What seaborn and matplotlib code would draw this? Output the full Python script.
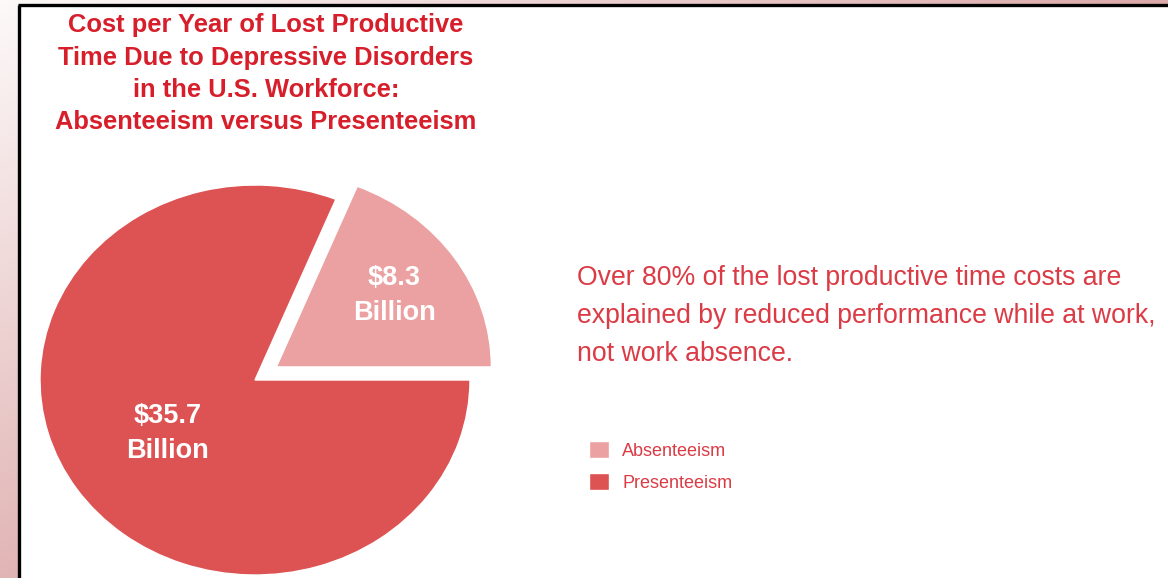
import numpy as np
import matplotlib
matplotlib.use("Agg")
import matplotlib.pyplot as plt
from matplotlib import font_manager
from matplotlib.patches import Rectangle
import seaborn as sns

# ---- data -------------------------------------------------------------
categories = ["Absenteeism", "Presenteeism"]
cost_billions = [8.3, 35.7]
title_lines = [
    "Cost per Year of Lost Productive",
    "Time Due to Depressive Disorders",
    "in the U.S. Workforce:",
    "Absenteeism versus Presenteeism",
]
note_lines = [
    "Over 80% of the lost productive time costs are",
    "explained by reduced performance while at work,",
    "not work absence.",
]

# ---- style ------------------------------------------------------------
sns.set_theme(style="white")
installed = {f.name for f in font_manager.fontManager.ttflist}


def pick(*names):
    for n in names:
        if n in installed:
            return n
    return "DejaVu Sans"


narrow = pick("Liberation Sans Narrow", "Liberation Sans", "DejaVu Sans")
regular = pick("Liberation Sans", "DejaVu Sans")
plt.rcParams["font.family"] = [narrow, "DejaVu Sans"]

palette = sns.color_palette(["#eba0a1", "#dd5252"])
title_red = "#d71f2b"
text_red = "#db3b45"

W, H = 1168, 578
fig = plt.figure(figsize=(W / 100, H / 100), dpi=100)

# ---- slide background: soft pink gradient with a framed white panel ----
bg = fig.add_axes([0, 0, 1, 1], zorder=0)
yy, xx = np.mgrid[0:1:200j, 0:1:400j]
t = np.clip(0.06 + 0.72 * yy + 0.85 * xx, 0, 1)[..., None]
pink = np.array([217, 160, 160]) / 255
grad = (1 - t) * np.ones(3) + t * pink
bg.imshow(grad, extent=[0, W, H, 0], aspect="auto", interpolation="bilinear")
bg.set_xlim(0, W)
bg.set_ylim(H, 0)
bg.axis("off")
bg.add_patch(Rectangle((19, 5), W - 19, H - 5, facecolor="white", edgecolor="none"))
bg.plot([19, 19], [H + 5, 5], color="black", lw=2.4, solid_capstyle="butt")
bg.plot([18, W + 5], [5, 5], color="black", lw=2.4, solid_capstyle="butt")

# ---- pie --------------------------------------------------------------
ax = fig.add_axes([0, 0, 1, 1], zorder=1)
ax.patch.set_alpha(0)
total = sum(cost_billions)
wedges, _, autotexts = ax.pie(
    cost_billions,
    colors=palette,
    startangle=0,
    counterclock=True,
    explode=[0.12, 0.0],
    autopct=lambda p: f"${p * total / 100:.1f}\nBillion",
    textprops=dict(color="white", fontsize=19.5, fontweight="bold",
                   linespacing=1.45),
    frame=False,
)
# value labels: placed along each wedge's mid-angle, radius per slice
label_radius = [0.66, 0.49]
for w, txt, r in zip(wedges, autotexts, label_radius):
    mid = np.deg2rad((w.theta1 + w.theta2) / 2)
    x0, y0 = w.center
    txt.set_position((x0 + r * np.cos(mid), y0 + r * np.sin(mid)))

# slightly wider than tall, like the printed graphic
cx, cy, rx, ry = 255, 380, 215, 195
ax.set_aspect("auto")
ax.set_xlim(-cx / rx, (W - cx) / rx)
ax.set_ylim(-(H - cy) / ry, cy / ry)
ax.axis("off")

# ---- title ------------------------------------------------------------
for i, line in enumerate(title_lines):
    fig.text(266 / W, 1 - (32 + 32.5 * i) / H, line, ha="center", va="baseline",
             fontsize=18.4, fontweight="bold", color=title_red)

# ---- note -------------------------------------------------------------
for i, line in enumerate(note_lines):
    fig.text(577 / W, 1 - (285 + 38 * i) / H, line, ha="left", va="baseline",
             fontsize=19.2, color=text_red, family=[regular, "DejaVu Sans"])

# ---- legend -----------------------------------------------------------
fig.legend(
    wedges, categories,
    loc="upper left",
    bbox_to_anchor=(589 / W, 1 - 441 / H),
    frameon=False,
    borderpad=0, borderaxespad=0,
    handlelength=1.1, handleheight=1.1,
    handletextpad=0.75, labelspacing=0.72,
    prop=dict(family=[regular, "DejaVu Sans"], size=13),
    labelcolor=text_red,
)

fig.savefig("out.png", dpi=100)
